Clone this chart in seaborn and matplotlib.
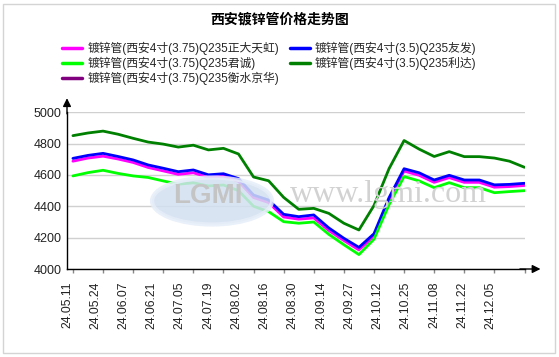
import numpy as np
import pandas as pd
import seaborn as sns
import matplotlib
matplotlib.use("Agg")
import matplotlib.pyplot as plt
from matplotlib.lines import Line2D
from matplotlib.patches import Rectangle, Ellipse

# ---------------- data ----------------
tick_labels = ["24.05.11", "24.05.24", "24.06.07", "24.06.21", "24.07.05", "24.07.19",
               "24.08.02", "24.08.16", "24.08.30", "24.09.14", "24.09.27", "24.10.12",
               "24.10.25", "24.11.08", "24.11.22", "24.12.05"]
# sample positions (in tick units, half-tick steps)
positions = [0, 0.5, 1, 1.5, 2, 2.5, 3, 3.5, 4, 4.5, 5, 5.5, 6, 6.5, 7, 7.5,
             8, 8.5, 9, 9.5, 10, 10.5, 11, 11.5, 12, 12.5, 13, 13.5, 14, 14.5, 15]

name_zdth = "镀锌管(西安4寸(3.75)Q235正大天虹)"
name_yf = "镀锌管(西安4寸(3.5)Q235友发)"
name_jc = "镀锌管(西安4寸(3.75)Q235君诚)"
name_ld = "镀锌管(西安4寸(3.5)Q235利达)"
name_hsjh = "镀锌管(西安4寸(3.75)Q235衡水京华)"

zdth = [4688, 4708, 4720, 4702, 4680, 4648, 4626, 4604, 4614, 4585, 4592, 4560,
        4456, 4424, 4332, 4318, 4326, 4246, 4182, 4122, 4208, 4440, 4625, 4598,
        4553, 4583, 4553, 4553, 4522, 4526, 4533]
yf = [4706, 4725, 4738, 4718, 4696, 4664, 4643, 4621, 4632, 4601, 4608, 4577,
      4472, 4440, 4349, 4334, 4345, 4262, 4196, 4138, 4225, 4455, 4640, 4614,
      4568, 4598, 4568, 4568, 4537, 4540, 4547]
jc = [4594, 4615, 4630, 4610, 4594, 4584, 4562, 4541, 4550, 4530, 4536, 4500,
      4400, 4366, 4302, 4292, 4300, 4221, 4155, 4092, 4190, 4410, 4590, 4562,
      4519, 4551, 4519, 4519, 4487, 4494, 4500]
ld = [4851, 4868, 4880, 4860, 4834, 4810, 4797, 4778, 4790, 4760, 4770, 4734,
      4587, 4563, 4457, 4381, 4387, 4355, 4292, 4249, 4405, 4640, 4820, 4765,
      4718, 4749, 4717, 4717, 4708, 4688, 4649]
hsjh = []  # no data drawn for this series

series = {name_zdth: zdth, name_yf: yf, name_jc: jc, name_ld: ld, name_hsjh: hsjh}
palette = {name_zdth: "#FF00FF", name_yf: "#0000FF", name_jc: "#00FF00",
           name_ld: "#008000", name_hsjh: "#800080"}
draw_order = [name_zdth, name_yf, name_jc, name_ld, name_hsjh]
legend_order = [name_zdth, name_jc, name_hsjh, name_yf, name_ld]

rows = []
for name in draw_order:
    for p, v in zip(positions, series[name]):
        rows.append({"pos": p, "price": v, "series": name})
df = pd.DataFrame(rows)

# ---------------- style ----------------
sns.set_theme(style="white")
plt.rcParams["font.family"] = ["Liberation Sans", "Noto Sans CJK SC"]

W, H = 559, 357
fig = plt.figure(figsize=(W / 100, H / 100), dpi=100)
fig.patch.set_facecolor("white")

ax_left, ax_right = 67 / W, 524.5 / W
ax_bottom, ax_top = 1 - 269 / H, 1 - 112.3 / H
ax = fig.add_axes([ax_left, ax_bottom, ax_right - ax_left, ax_top - ax_bottom])
ax.set_facecolor("white")

# watermark
fig.patches.append(Ellipse((212 / W, 1 - 201 / H), 120 / W, 47 / H, transform=fig.transFigure,
                           facecolor="#d3e0f1", edgecolor="#e6eef8", lw=3, alpha=0.85, zorder=0))
fig.text(208 / W, 1 - 196 / H, "LGMI", transform=fig.transFigure, ha="center", va="center",
         fontsize=20, fontweight="bold", color="#c4c4c4", family=["Liberation Sans"], zorder=0.5)
fig.text(388 / W, 1 - 195 / H, "www.lgmi.com", ha="center", va="center", fontsize=23,
         color="#d2d2d2", family=["Liberation Serif"], zorder=0.5)

for y in [4000, 4200, 4400, 4600, 4800, 5000]:
    ax.axhline(y, color="#d0d0d0", lw=1, zorder=1)

sns.lineplot(data=df, x="pos", y="price", hue="series", hue_order=draw_order,
             palette=palette, linewidth=2, ax=ax, legend=False, zorder=3)

ax.set_xlim(0, 15)
ax.set_ylim(4000, 5000)
ax.set_xlabel("")
ax.set_ylabel("")

ax.set_yticks([4000, 4200, 4400, 4600, 4800, 5000])
ax.set_yticklabels(["4000", "4200", "4400", "4600", "4800", "5000"], fontsize=9)
ax.tick_params(axis="y", length=3, width=1, color="black", pad=1, labelcolor="#222222")

# minor ticks mark the date positions; labels are offset like in the source chart
ax.set_xticks(range(len(tick_labels)), minor=True)
label_pos = [(k * 28.6 - 6) / 30.5 for k in range(len(tick_labels))]
ax.set_xticks(label_pos)
ax.set_xticklabels(tick_labels, rotation=90, fontsize=8.7, color="#222222")
ax.tick_params(axis="x", which="major", length=0, pad=9)
ax.tick_params(axis="x", which="minor", length=3, width=1, color="#888888", direction="out")
ax.xaxis.set_tick_params(which="minor", bottom=True)

for s in ["top", "right"]:
    ax.spines[s].set_visible(False)
ax.spines["left"].set_color("black")
ax.spines["bottom"].set_color("black")
ax.spines["left"].set_linewidth(1)
ax.spines["bottom"].set_linewidth(1)

# axis arrows
ax.annotate("", xy=(0, 1.09), xytext=(0, 0.99), xycoords="axes fraction",
            arrowprops=dict(arrowstyle="-|>", color="black", lw=1, mutation_scale=12,
                            shrinkA=0, shrinkB=0), annotation_clip=False)
ax.annotate("", xy=(1.035, 0), xytext=(0.99, 0), xycoords="axes fraction",
            arrowprops=dict(arrowstyle="-|>", color="black", lw=1, mutation_scale=12,
                            shrinkA=0, shrinkB=0), annotation_clip=False)

# title
fig.text(0.5, 1 - 20 / H, "西安镀锌管价格走势图", ha="center", va="center",
         fontsize=10, fontweight="bold", color="black")

# legend
handles = [Line2D([0], [0], color=palette[n], lw=2.5) for n in legend_order]
leg = fig.legend(handles, legend_order, loc="upper left", ncol=2,
                 bbox_to_anchor=(62 / W, 1 - 42 / H), bbox_transform=fig.transFigure,
                 frameon=False, fontsize=8.5, handlelength=1.7, handletextpad=0.45,
                 columnspacing=0.9, labelspacing=0.15, borderpad=0, borderaxespad=0)

# outer border
fig.patches.append(Rectangle((3 / W, 4 / H), 552 / W, 349 / H, transform=fig.transFigure,
                             fill=False, edgecolor="#d4d4d4", lw=1, zorder=10))

fig.savefig("out.png", dpi=100, facecolor="white")
